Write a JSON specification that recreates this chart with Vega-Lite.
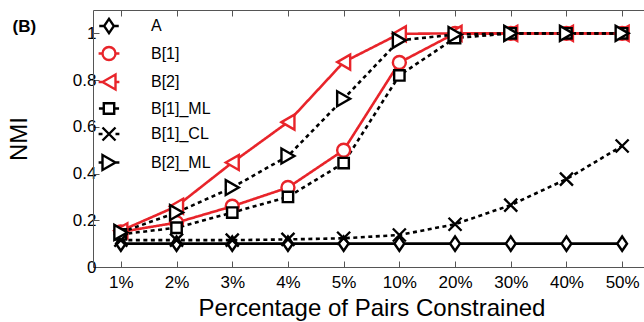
{
  "$schema": "https://vega.github.io/schema/vega-lite/v6.json",
  "width": 557,
  "height": 257,
  "autosize": {"type": "none"},
  "padding": {"left": 93, "top": 10, "right": 0, "bottom": 55},
  "background": "white",
  "data": {"values": [
    {"pct": "1%", "series": "A", "v": 0.1}, {"pct": "2%", "series": "A", "v": 0.1}, {"pct": "3%", "series": "A", "v": 0.1}, {"pct": "4%", "series": "A", "v": 0.1}, {"pct": "5%", "series": "A", "v": 0.1},
    {"pct": "10%", "series": "A", "v": 0.1}, {"pct": "20%", "series": "A", "v": 0.1}, {"pct": "30%", "series": "A", "v": 0.1}, {"pct": "40%", "series": "A", "v": 0.1}, {"pct": "50%", "series": "A", "v": 0.1},
    {"pct": "1%", "series": "B[1]", "v": 0.15}, {"pct": "2%", "series": "B[1]", "v": 0.19}, {"pct": "3%", "series": "B[1]", "v": 0.26}, {"pct": "4%", "series": "B[1]", "v": 0.34}, {"pct": "5%", "series": "B[1]", "v": 0.5},
    {"pct": "10%", "series": "B[1]", "v": 0.875}, {"pct": "20%", "series": "B[1]", "v": 1.0}, {"pct": "30%", "series": "B[1]", "v": 1.0}, {"pct": "40%", "series": "B[1]", "v": 1.0}, {"pct": "50%", "series": "B[1]", "v": 1.0},
    {"pct": "1%", "series": "B[2]", "v": 0.155}, {"pct": "2%", "series": "B[2]", "v": 0.26}, {"pct": "3%", "series": "B[2]", "v": 0.447}, {"pct": "4%", "series": "B[2]", "v": 0.62}, {"pct": "5%", "series": "B[2]", "v": 0.877},
    {"pct": "10%", "series": "B[2]", "v": 0.998}, {"pct": "20%", "series": "B[2]", "v": 1.0}, {"pct": "30%", "series": "B[2]", "v": 1.0}, {"pct": "40%", "series": "B[2]", "v": 1.0}, {"pct": "50%", "series": "B[2]", "v": 1.0},
    {"pct": "1%", "series": "B[1]_ML", "v": 0.14}, {"pct": "2%", "series": "B[1]_ML", "v": 0.168}, {"pct": "3%", "series": "B[1]_ML", "v": 0.233}, {"pct": "4%", "series": "B[1]_ML", "v": 0.3}, {"pct": "5%", "series": "B[1]_ML", "v": 0.445},
    {"pct": "10%", "series": "B[1]_ML", "v": 0.82}, {"pct": "20%", "series": "B[1]_ML", "v": 0.98}, {"pct": "30%", "series": "B[1]_ML", "v": 1.0}, {"pct": "40%", "series": "B[1]_ML", "v": 1.0}, {"pct": "50%", "series": "B[1]_ML", "v": 1.0},
    {"pct": "1%", "series": "B[1]_CL", "v": 0.115}, {"pct": "2%", "series": "B[1]_CL", "v": 0.115}, {"pct": "3%", "series": "B[1]_CL", "v": 0.115}, {"pct": "4%", "series": "B[1]_CL", "v": 0.118}, {"pct": "5%", "series": "B[1]_CL", "v": 0.123},
    {"pct": "10%", "series": "B[1]_CL", "v": 0.137}, {"pct": "20%", "series": "B[1]_CL", "v": 0.183}, {"pct": "30%", "series": "B[1]_CL", "v": 0.265}, {"pct": "40%", "series": "B[1]_CL", "v": 0.376}, {"pct": "50%", "series": "B[1]_CL", "v": 0.518},
    {"pct": "1%", "series": "B[2]_ML", "v": 0.148}, {"pct": "2%", "series": "B[2]_ML", "v": 0.233}, {"pct": "3%", "series": "B[2]_ML", "v": 0.34}, {"pct": "4%", "series": "B[2]_ML", "v": 0.475}, {"pct": "5%", "series": "B[2]_ML", "v": 0.72},
    {"pct": "10%", "series": "B[2]_ML", "v": 0.97}, {"pct": "20%", "series": "B[2]_ML", "v": 0.995}, {"pct": "30%", "series": "B[2]_ML", "v": 1.0}, {"pct": "40%", "series": "B[2]_ML", "v": 1.0}, {"pct": "50%", "series": "B[2]_ML", "v": 1.0}
  ]},
  "layer": [
    {
      "mark": {"type": "line", "strokeWidth": 2.6},
      "encoding": {
        "x": {"field": "pct", "type": "ordinal", "sort": ["1%", "2%", "3%", "4%", "5%", "10%", "20%", "30%", "40%", "50%"], "scale": {"type": "point", "padding": 0.5},
              "axis": {"title": "Percentage of Pairs Constrained", "labelAngle": 0}},
        "y": {"field": "v", "type": "quantitative", "scale": {"domain": [0, 1.1], "nice": false},
              "axis": {"title": "NMI", "values": [0, 0.2, 0.4, 0.6, 0.8, 1], "format": "~g"}},
        "stroke": {"field": "series", "type": "nominal", "legend": null,
                   "scale": {"domain": ["A", "B[1]", "B[2]", "B[1]_ML", "B[1]_CL", "B[2]_ML"], "range": ["black", "#e8242a", "#e8242a", "black", "black", "black"]}},
        "strokeDash": {"field": "series", "type": "nominal", "legend": null,
                   "scale": {"domain": ["A", "B[1]", "B[2]", "B[1]_ML", "B[1]_CL", "B[2]_ML"], "range": [[1, 0], [1, 0], [1, 0], [4, 3.5], [4, 3.5], [4, 3.5]]}}
      }
    },
    {
      "mark": {"type": "point", "fill": "white", "filled": false, "strokeWidth": 2.4, "size": 169},
      "encoding": {
        "x": {"field": "pct", "type": "ordinal", "sort": ["1%", "2%", "3%", "4%", "5%", "10%", "20%", "30%", "40%", "50%"],
              "axis": {"orient": "top", "labels": false, "title": "(B)", "titleAnchor": "start", "titleAlign": "left", "titleBaseline": "alphabetic",
                       "titleX": -81, "titleY": 21, "titleFontSize": 17, "titleFontWeight": "bold", "titleAngle": 0}},
        "y": {"field": "v", "type": "quantitative",
              "axis": {"orient": "right", "labels": false, "title": null, "values": [0, 0.2, 0.4, 0.6, 0.8, 1]}},
        "stroke": {"field": "series", "type": "nominal", "legend": null},
        "shape": {"field": "series", "type": "nominal", "legend": null,
                  "scale": {"domain": ["A", "B[1]", "B[2]", "B[1]_ML", "B[1]_CL", "B[2]_ML"],
                            "range": ["M0,-1.1L0.75,0L0,1.1L-0.75,0Z", "circle", "M-1,0L1,-1.15L1,1.15Z", "M-0.8,-0.8H0.8V0.8H-0.8Z", "M-1,-1L1,1M-1,1L1,-1", "M1,0L-1,-1.15L-1,1.15Z"]}},
        "opacity": {"field": "series", "type": "nominal", "sort": ["A", "B[1]", "B[2]", "B[1]_ML", "B[1]_CL", "B[2]_ML"],
                    "scale": {"range": [1, 1, 1, 1, 1, 1]},
                    "legend": {
                      "title": null, "orient": "top-left", "offset": 8, "padding": 0,
                      "symbolSize": 169, "symbolStrokeWidth": 2.4, "symbolFillColor": "white",
                      "labelFont": "Liberation Sans", "labelFontSize": 16, "labelColor": "black", "labelOffset": 34, "rowPadding": 3.5,
                      "encoding": {
                        "symbols": {
                          "stroke": {"value": {"expr": "(datum.value === 'B[1]' || datum.value === 'B[2]') ? '#e8242a' : 'black'"}},
                          "fill": {"value": "white"},
                          "strokeWidth": {"value": 2.4},
                          "shape": {"value": {"expr": "datum.value === 'A' ? 'M0,-1.1L0.75,0L0,1.1L-0.75,0ZM-1.5,0H-0.75M0.75,0H1.5' : datum.value === 'B[1]' ? 'M-1,0A1,1,0,1,0,1,0A1,1,0,1,0,-1,0ZM-1.6,0H-1M1,0H1.6' : datum.value === 'B[2]' ? 'M-1,0L1,-1.15L1,1.15ZM-1.6,0H-1M1,0H1.6' : datum.value === 'B[1]_ML' ? 'M-0.8,-0.8H0.8V0.8H-0.8ZM-1.55,0H-0.8M0.8,0H1.55' : datum.value === 'B[1]_CL' ? 'M-1,-1L1,1M-1,1L1,-1M-1.6,0H-1M1,0H1.6' : 'M1,0L-1,-1.15L-1,1.15ZM-1.6,0H-1M1,0H1.6'"}}
                        }
                      }
                    }}
      }
    }
  ],
  "resolve": {"axis": {"x": "independent", "y": "independent"}},
  "config": {
    "view": {"stroke": null},
    "axis": {
      "grid": false, "domainColor": "#555", "tickColor": "#555", "domainWidth": 1, "tickWidth": 1,
      "tickSize": -6, "labelFont": "Liberation Sans", "labelFontSize": 17, "labelColor": "black",
      "titleFont": "Liberation Sans", "titleFontSize": 24, "titleFontWeight": "normal", "titleColor": "black"
    },
    "axisX": {"labelPadding": 13, "titlePadding": 6},
    "axisY": {"labelPadding": 3, "titlePadding": 41}
  }
}
